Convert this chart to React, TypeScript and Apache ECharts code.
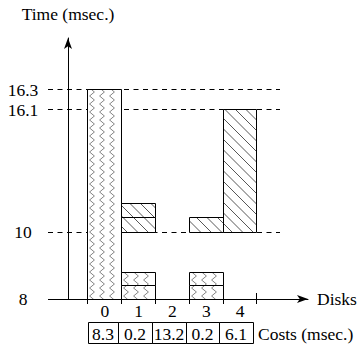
import React, { useEffect, useRef } from 'react';
import * as echarts from 'echarts';

// Disks on the horizontal axis and the cost of each one (msec.)
const disks = ['0', '1', '2', '3', '4'];
const costs = ['8.3', '0.2', '13.2', '0.2', '6.1'];

// Time levels marked on the vertical axis (msec.)
const timeTicks = [8, 10, 16.1, 16.3];

// Busy intervals: disk, start and end time (msec.), fill pattern
const segDisk = [0, 1, 1, 1, 1, 3, 3, 3, 4];
const segStart = [8, 8, 8.4, 10, 10.7, 8, 8.4, 10, 10];
const segEnd = [16.3, 8.4, 8.8, 10.7, 11.4, 8.4, 8.8, 10.7, 16.1];
const segFill = ['zigzag', 'zigzag', 'zigzag', 'hatch', 'hatch', 'zigzag', 'zigzag', 'hatch', 'hatch'];

// The time axis is not to scale: each marked level sits at its own height
const levelHeights = [0, 67, 189.5, 209.5];

const FONT = 'Liberation Serif';
const FS = 17.5;
const X_MIN = -1.09;
const X_MAX = 6.01;

// Table of costs under the disk labels
const costEdges = [88, 118, 152, 186, 219, 253];
const tableTop = 322;
const tableHeight = 21;

function toAxis(v: number): number {
  const t = timeTicks;
  const h = levelHeights;
  let i = 0;
  while (i < t.length - 2 && v > t[i + 1]) i++;
  return h[i] + ((v - t[i]) * (h[i + 1] - h[i])) / (t[i + 1] - t[i]);
}

const crisp = (v: number) => Math.round(v - 0.5) + 0.5;

function hatchLines(x0: number, x1: number, yt: number, yb: number) {
  const sp = 10.5;
  const out: any[] = [];
  const kFrom = Math.ceil((x0 - yb) / sp);
  const kTo = Math.floor((x1 - yt) / sp);
  for (let k = kFrom; k <= kTo; k++) {
    const c = k * sp;
    const ya = Math.max(yt, x0 - c);
    const yz = Math.min(yb, x1 - c);
    if (yz - ya > 0.3) {
      out.push({
        type: 'line',
        shape: { x1: ya + c, y1: ya, x2: yz + c, y2: yz },
        style: { stroke: '#444', lineWidth: 0.9 },
      });
    }
  }
  return out;
}

function zigzagLines(x0: number, x1: number, yt: number, yb: number) {
  const amp = 2.4;
  const half = 4;
  const out: any[] = [];
  const tri = (y: number) => {
    const ph = y / half;
    const k = Math.floor(ph);
    const f = ph - k;
    const a = k % 2 === 0 ? -amp : amp;
    return a + (-a - a) * f;
  };
  for (let off = 4.5; off < x1 - x0 - 2; off += 10) {
    const cx = x0 + off;
    const pts: number[][] = [[cx + tri(yt), yt]];
    for (let k = Math.ceil(yt / half); k * half < yb; k++) {
      const y = k * half;
      if (y > yt) pts.push([cx + (k % 2 === 0 ? -amp : amp), y]);
    }
    pts.push([cx + tri(yb), yb]);
    out.push({
      type: 'polyline',
      shape: { points: pts },
      style: { stroke: '#666', lineWidth: 0.8, fill: null },
    });
  }
  return out;
}

export default function App() {
  const ref = useRef<HTMLDivElement>(null);

  useEffect(() => {
    if (!ref.current) return;
    const chart = echarts.init(ref.current, null, { renderer: 'svg' });

    const textStyle = { fontFamily: FONT, fontSize: FS, color: '#000' };

    const graphic: any[] = [];
    costs.forEach((c, i) => {
      graphic.push({
        type: 'rect',
        shape: {
          x: crisp(costEdges[i]),
          y: crisp(tableTop),
          width: costEdges[i + 1] - costEdges[i],
          height: tableHeight,
        },
        style: { fill: 'none', stroke: '#000', lineWidth: 1 },
      });
      graphic.push({
        type: 'text',
        x: (costEdges[i] + costEdges[i + 1]) / 2,
        y: tableTop + tableHeight / 2 + 1,
        style: {
          text: c,
          fontFamily: FONT,
          fontSize: FS,
          fill: '#000',
          align: 'center',
          verticalAlign: 'middle',
        },
      });
    });
    graphic.push({
      type: 'text',
      x: costEdges[costEdges.length - 1] + 5,
      y: tableTop + tableHeight / 2 + 1,
      style: {
        text: 'Costs (msec.)',
        fontFamily: FONT,
        fontSize: FS,
        fill: '#000',
        align: 'left',
        verticalAlign: 'middle',
      },
    });

    const boundaries = disks.map((_, i) => i - 0.5).concat([disks.length - 0.5]);

    chart.setOption({
      animation: false,
      grid: { left: 68, top: 38, width: 240, height: 261, containLabel: false },
      xAxis: {
        type: 'value',
        min: X_MIN,
        max: X_MAX,
        axisLine: {
          show: true,
          onZero: false,
          symbol: ['none', 'arrow'],
          symbolSize: [6, 11],
          lineStyle: { color: '#000', width: 1 },
        },
        axisTick: { show: false },
        splitLine: { show: false },
        axisLabel: {
          customValues: disks.map((_, i) => i),
          formatter: (v: number) => disks[Math.round(v)],
          margin: 3,
          ...textStyle,
        },
        name: 'Disks',
        nameLocation: 'end',
        nameGap: 9,
        nameTextStyle: { ...textStyle, verticalAlign: 'middle' },
      },
      yAxis: {
        type: 'value',
        min: 0,
        max: 261,
        axisLine: {
          show: true,
          onZero: false,
          symbol: ['none', 'arrow'],
          symbolSize: [6, 11],
          lineStyle: { color: '#000', width: 1 },
        },
        axisTick: { show: false },
        splitLine: { show: false },
        axisLabel: {
          customValues: levelHeights,
          formatter: (v: number) => {
            let best = 0;
            levelHeights.forEach((h, i) => {
              if (Math.abs(h - v) < Math.abs(levelHeights[best] - v)) best = i;
            });
            return String(timeTicks[best]);
          },
          align: 'center',
          margin: 45,
          ...textStyle,
        },
        name: 'Time (msec.)',
        nameLocation: 'end',
        nameGap: 15,
        nameTextStyle: { ...textStyle, align: 'center' },
      },
      graphic,
      series: [
        {
          // reference lines at each marked time level
          type: 'custom',
          z: 1,
          data: timeTicks.map((t) => [t]),
          renderItem: (params: any, api: any) => {
            const v = api.value(0);
            const cs = params.coordSys;
            const y = crisp(api.coord([0, toAxis(v)])[1]);
            const base = v === timeTicks[0];
            return {
              type: 'line',
              shape: { x1: cs.x - 20, y1: y, x2: base ? cs.x : cs.x + 212, y2: y },
              style: { stroke: '#000', lineWidth: 1, lineDash: base ? null : [5, 4.5] },
            };
          },
        },
        {
          // tick marks between disks
          type: 'custom',
          z: 3,
          data: boundaries.map((b) => [b]),
          renderItem: (params: any, api: any) => {
            const p = api.coord([api.value(0), 0]);
            const x = crisp(p[0]);
            return {
              type: 'line',
              shape: { x1: x, y1: p[1] - 6, x2: x, y2: p[1] + 5 },
              style: { stroke: '#000', lineWidth: 1 },
            };
          },
        },
        {
          // busy intervals of each disk
          type: 'custom',
          z: 2,
          data: segDisk.map((d, i) => [d, segStart[i], segEnd[i], i]),
          renderItem: (params: any, api: any) => {
            const d = api.value(0);
            const idx = api.value(3);
            const p0 = api.coord([d - 0.5, toAxis(api.value(1))]);
            const p1 = api.coord([d + 0.5, toAxis(api.value(2))]);
            const x0 = crisp(p0[0]);
            const x1 = crisp(p1[0]);
            const yb = crisp(p0[1]);
            const yt = crisp(p1[1]);
            const pattern =
              segFill[idx] === 'hatch' ? hatchLines(x0, x1, yt, yb) : zigzagLines(x0, x1, yt, yb);
            return {
              type: 'group',
              children: [
                {
                  type: 'rect',
                  shape: { x: x0, y: yt, width: x1 - x0, height: yb - yt },
                  style: { fill: '#fff', stroke: null },
                },
                ...pattern,
                {
                  type: 'rect',
                  shape: { x: x0, y: yt, width: x1 - x0, height: yb - yt },
                  style: { fill: 'none', stroke: '#000', lineWidth: 1 },
                },
              ],
            };
          },
        },
      ],
    });

    return () => chart.dispose();
  }, []);

  return (
    <div
      ref={ref}
      style={{ position: 'absolute', left: 0, top: 0, width: 362, height: 354, background: '#fff' }}
    />
  );
}
